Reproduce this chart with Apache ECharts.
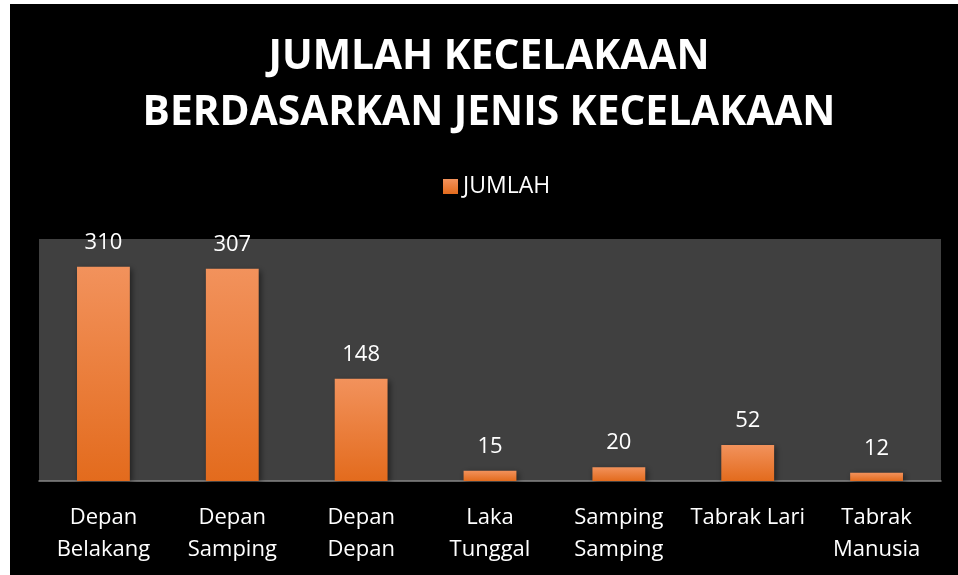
<!DOCTYPE html>
<html>
<head>
<meta charset="utf-8">
<script src="https://cdn.jsdelivr.net/npm/echarts@6/dist/echarts.min.js"></script>
<style>
  html, body { margin: 0; padding: 0; background: #fff; }
  #main { position: absolute; left: 10px; top: 4px; width: 948px; height: 571px; }
</style>
</head>
<body>
<div id="main"></div>
<script>
var categories = ['Depan\nBelakang', 'Depan\nSamping', 'Depan\nDepan', 'Laka\nTunggal', 'Samping\nSamping', 'Tabrak Lari', 'Tabrak\nManusia'];
var jumlah = [310, 307, 148, 15, 20, 52, 12];

var chart = echarts.init(document.getElementById('main'));

var barColor = new echarts.graphic.LinearGradient(0, 0, 0, 1, [
  { offset: 0, color: '#f2925c' },
  { offset: 1, color: '#e36b1d' }
]);

var option = {
  backgroundColor: '#000',
  animation: false,
  title: {
    text: 'JUMLAH KECELAKAAN\nBERDASARKAN JENIS KECELAKAAN',
    left: 479,
    textAlign: 'center',
    top: 25,
    padding: 0,
    textStyle: {
      color: '#fff',
      fontFamily: 'Open Sans',
      fontWeight: 'bold',
      fontSize: 40.7,
      lineHeight: 56
    }
  },
  legend: {
    left: 428,
    top: 166,
    itemWidth: 15,
    itemHeight: 15,
    itemGap: 6,
    icon: 'rect',
    textStyle: {
      color: '#fff',
      fontFamily: 'Open Sans',
      fontSize: 23
    },
    data: ['JUMLAH']
  },
  grid: {
    left: 29,
    right: 17,
    top: 235,
    bottom: 94,
    show: true,
    backgroundColor: '#404040',
    borderWidth: 0,
    containLabel: false
  },
  xAxis: {
    type: 'category',
    data: categories,
    axisLine: { lineStyle: { color: '#858585', width: 1.5 } },
    axisTick: { show: false },
    axisLabel: {
      color: '#fff',
      fontFamily: 'Open Sans',
      fontSize: 22,
      lineHeight: 32,
      margin: 21,
      interval: 0
    }
  },
  yAxis: {
    type: 'value',
    min: 0,
    max: 350,
    show: false,
    splitLine: { show: false }
  },
  series: [{
    name: 'JUMLAH',
    type: 'bar',
    data: jumlah,
    barWidth: '41%',
    itemStyle: {
      color: barColor,
      shadowColor: 'rgba(0,0,0,0.5)',
      shadowBlur: 6,
      shadowOffsetX: 2,
      shadowOffsetY: 2
    },
    label: {
      show: true,
      position: 'top',
      distance: 13,
      color: '#fff',
      fontFamily: 'Open Sans',
      fontSize: 22
    }
  }]
};

chart.setOption(option);
</script>
</body>
</html>
